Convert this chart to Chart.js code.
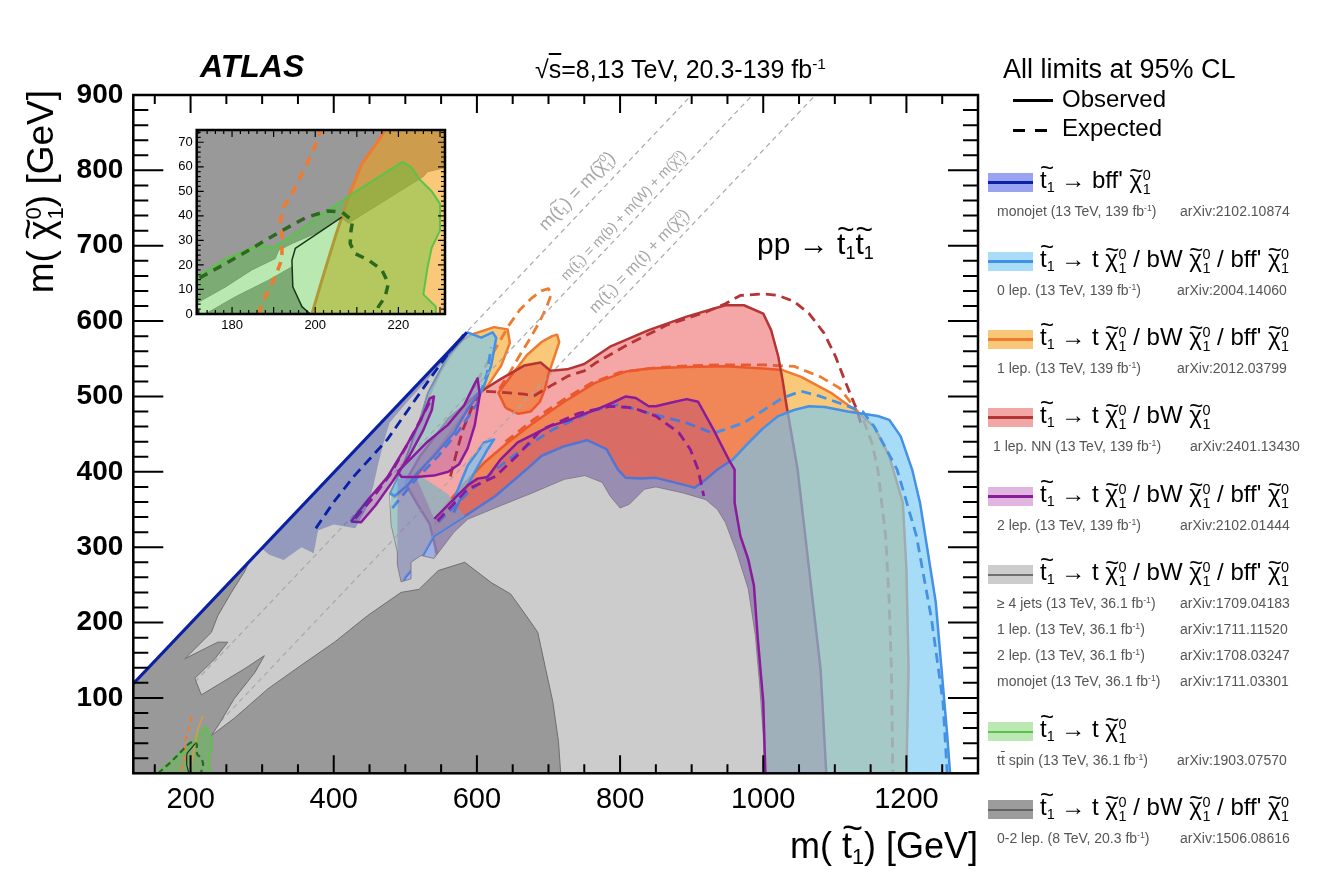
<!DOCTYPE html>
<html lang="en">
<head>
<meta charset="UTF-8">
<title>ATLAS stop summary</title>
<script src="https://cdn.jsdelivr.net/npm/chart.js"></script>
<style>
  body { margin:0; background:#fff; overflow:hidden; font-family:'Liberation Sans', Arial, Helvetica, sans-serif; }
  #wrap { position:relative; width:1326px; height:878px; }
  #mainChart { position:absolute; left:0; top:0; }
  #insetChart { position:absolute; left:150px; top:115px; }
  .t { position:absolute; white-space:nowrap; line-height:1; color:#000; z-index:5; }
  .tl { position:relative; display:inline-block; }
  .tl::after { content:'~'; position:absolute; left:0; right:0; text-align:center; top:-0.5em; }
  .tl.tx::after { top:-0.36em; }
  .sb { font-size:0.6em; vertical-align:-0.3em; }
  .ss { display:inline-flex; flex-direction:column; font-size:0.6em; line-height:1; vertical-align:0.55em; margin-left:0.04em; }
  sup.e { font-size:0.62em; vertical-align:0.55em; line-height:0; }
  .ov { text-decoration:overline; }
  .box { position:absolute; width:45px; height:19px; z-index:5; }
  .box div { position:absolute; left:0; right:0; top:8px; height:3px; }
  .mk { position:absolute; background:#000; height:3px; z-index:5; }
  .diag { position:absolute; white-space:nowrap; line-height:1; color:#a6a6a6; z-index:4; transform:translate(-50%,-50%) rotate(-46.4deg); }
</style>
</head>
<body>
<div id="wrap">
  <canvas id="mainChart" width="1326" height="878"></canvas>
  <canvas id="insetChart" width="310" height="230"></canvas>
</div>
<script>
// axis ticks
const xMajor = [200, 400, 600, 800, 1000, 1200];
const yMajor = [100, 200, 300, 400, 500, 600, 700, 800, 900];
const insetXMajor = [180, 200, 220];
const insetYMajor = [0, 10, 20, 30, 40, 50, 60, 70];

// 1 lep. 139 fb-1 (orange)
const orangeObsMain = [[540,330],[560,360],[583,385],[610,412],[642,438],[679,465],[722,493],[765,518],[808,533],[840,537],[893,539],[947,540],[1000,537],[1027,535],[1053,526],[1096,504],[1128,482],[1155,460],[1176,421],[1195,359],[1200,271],[1203,139],[1200,0],[540,0]];
const orangeLobe1 = [[640,485],[630,505],[650,530],[670,555],[690,572],[705,580],[712,582],[715,572],[708,552],[700,530],[695,510],[688,493],[675,480],[658,477],[640,485]];
const orangeLobe2 = [[592,582],[605,586],[624,592],[643,589],[646,571],[634,541],[615,514],[601,501],[585,480],[565,455],[545,430],[520,400],[500,378],[485,366],[478,372],[490,400],[505,435],[520,470],[535,505],[550,535],[565,558],[580,575],[592,582]];
const orangeExpMain = [[640,440],[680,470],[720,495],[760,518],[800,532],[850,538],[900,541],[947,542],[1000,542],[1043,540],[1080,526],[1107,511],[1123,491],[1139,471],[1152,438],[1160,403],[1171,315],[1176,227],[1179,139],[1181,0]];
const orangeExpLobe = [[600,520],[615,545],[630,570],[645,595],[660,615],[676,630],[690,640],[700,643],[704,636],[698,620],[688,600],[675,578],[660,555],[645,530],[630,508]];
const orangeLow = [[199.2,0],[201.6,13.8],[204.8,31.4],[208,47.7],[211.2,61.2],[215.2,70.7],[217.2,76]];
const orangeLowExp = [[201.6,76],[199.2,65.3],[196.8,57.2],[194.4,49],[192.4,43.6],[191.6,38.2],[192,32.8],[192,24.6],[191.6,20.6],[190.4,15.2],[188.8,9.8],[187.2,4.3],[186.4,0]];

// 1 lep. NN 139 fb-1 (red)
const redObsMain = [[560,0],[555,250],[534,331],[515,360],[500,385],[505,395],[520,420],[540,445],[560,470],[585,490],[601,504],[633,523],[666,541],[689,545],[703,534],[726,536],[750,543],[786,566],[840,588],[893,606],[947,621],[973,621],[1000,610],[1011,588],[1021,553],[1027,522],[1032,491],[1048,403],[1064,271],[1080,139],[1088,0]];
const redExp = [[563,394],[570,420],[580,455],[595,490],[606,507],[630,506],[666,503],[680,501],[703,514],[727,527],[750,534],[765,544],[813,570],[866,595],[920,612],[947,623],[968,634],[1000,636],[1021,634],[1043,626],[1064,610],[1085,584],[1101,553],[1112,526],[1123,500],[1131,482],[1136,465]];

// 0 lep. 139 fb-1 (light blue)
const blueObsMain = [[470,0],[470,200],[500,260],[524,288],[540,315],[583,341],[626,368],[669,403],[690,421],[722,434],[754,442],[781,430],[797,403],[808,392],[829,391],[850,392],[888,383],[904,379],[920,390],[936,403],[957,416],[979,438],[1000,458],[1021,474],[1043,482],[1064,487],[1086,486],[1118,480],[1160,474],[1176,469],[1192,447],[1208,403],[1219,359],[1230,293],[1241,227],[1249,139],[1257,51],[1261,0]];
const lowPatch = [[480,230],[480,395],[520,395],[560,370],[583,341],[540,315],[524,288],[500,260],[485,230]];
const lobeLeft = [[585,583],[575,575],[560,556],[545,530],[531,505],[520,470],[505,430],[490,395],[478,372]];
const blueLobe = [[478,372],[485,368],[503,382],[517,399],[540,421],[568,452],[587,483],[610,514],[620,541],[627,578],[622,585],[606,578],[587,585],[575,575],[560,556],[545,530],[531,505],[520,470],[505,430],[490,395],[478,372]];
const blueLobe2 = [[568,346],[568,364],[587,408],[610,439],[624,443],[615,430],[600,405],[587,382],[575,360],[568,346]];
const blueExp = [[546,333],[585,370],[626,403],[666,432],[706,456],[765,482],[797,489],[840,478],[893,465],[930,451],[973,465],[1027,498],[1053,507],[1080,500],[1107,491],[1139,480],[1155,460],[1187,403],[1214,315],[1235,205],[1251,95],[1257,0]];
const blueExpLobe = [[482,352],[510,385],[545,420],[575,455],[600,490],[614,530],[620,565]];

// 36.1 fb-1 combination (light grey), visible upper edge
const grayTop = [[480,330],[489,293],[489,276],[494,254],[508,258],[508,280],[522,289],[540,285],[568,320],[587,337],[633,355],[680,373],[722,390],[751,395],[775,386],[786,368],[800,352],[813,357],[834,377],[850,380],[888,372],[920,363],[936,350],[947,333],[963,293],[979,245],[989,183],[995,117],[1000,51],[1002,0]];

// 8 TeV (dark grey)
const darkGray8 = [[120,0],[120,117],[280,277],[275,267],[257,240],[238,209],[229,187],[192,152],[238,174],[252,174],[234,152],[206,126],[215,104],[276,139],[303,156],[290,134],[261,99],[239,64],[229,50],[261,73],[308,112],[354,143],[401,174],[447,209],[494,240],[519,244],[546,269],[583,280],[620,253],[647,238],[669,209],[685,187],[695,143],[706,95],[714,42],[717,0]];

// kinematic limits
const diag1 = [[120,120],[900,900]];
const diag2 = [[120,35],[985,900]];
const diag3 = [[173,0],[1073,900]];

// 2 lep. 139 fb-1 (purple)
const purpleTop = [[540.5,337.5],[568,364],[587,382],[601,391],[615,393],[633.5,417],[657,439],[703,461],[727,468],[750,477],[765,482],[790,492],[808,500],[822,498],[840,487],[850,487],[872,492],[893,496.5],[909,493],[930.5,456],[952,416],[960,403],[960,359],[968,315],[979,284],[987,249],[992,183],[1000,95],[1003,0]];
const purpleLeft = [[489,390],[515,393]];
const purpleExp = [[545,335],[587,377],[626,394],[660,425],[690,456],[743,478],[786,487],[818,485],[850,474],[882,452],[898,430],[909,403],[917,368]];
const purpleLobe1 = [[424,334],[447,362],[475,393],[503,437],[522,469],[534,497],[540,500],[537,482],[525,455],[505,420],[482,387],[458,355],[438,333],[424,334]];
const purpleLobe2 = [[489,400],[508,418],[531,440],[559,462],[582,488],[596,515],[601,524],[604,502],[597,462],[587,431],[575,410],[560,400],[540,395],[515,393],[495,393],[489,400]];
const purpleExpLobe = [[430,338],[455,366],[480,398],[505,440],[525,476],[535,494]];

// monojet 139 fb-1 (dark blue)
const monojetFill = [[300,298],[585,584],[583,577],[540,532],[500,490],[478,465],[470,440],[462,410],[455,380],[445,350],[430,325],[400,330],[378,322],[372,292],[355,300],[330,283],[310,290]];
const monojetObs = [[120,119],[586,585]];
const monojetExp = [[375,325],[400,360],[429,395],[475,443],[531,519],[559,556],[582,582]];

// ttbar spin 36.1 fb-1 (green)
const ttspinObs = [[152,0],[160,7],[171.5,15],[178,22],[186,28],[190,27],[208,48],[221,62],[223,60],[225,55],[228,50],[230,45],[230,34],[228,27],[227,19],[226,8],[229,3],[229,0]];
const ttspinExp = [[155,0],[163,7],[172,14.5],[181,23],[187,29],[192,34],[198,39.5],[203,42],[206.5,41.5],[209,38],[208.6,34],[208.4,28.7],[209.6,24.6],[212.8,22],[216,18],[217.6,12.5],[216.8,7],[215.2,3],[214.6,0]];
const ttspinBlack = [[206.4,39.5],[195.2,26.7],[194.4,21.9],[194.6,11.1],[196.8,3],[198.8,0]];

// inset: region not excluded at 8 TeV, 1 lep. region
const insetWhite = [[173.6,0],[180.8,7],[188.8,13.8],[194.4,19.2],[194.6,11.1],[196.8,3],[198.8,0],[232,0],[232,60],[227,58],[226,56],[208,37],[206,39.5],[201.6,34],[194.4,28.7],[191.2,26],[190.4,22.6],[184.8,18],[178.4,11],[171,4],[171,0]];
const insetOrange = [[199.2,0],[201.6,13.8],[204.8,31.4],[208,47.7],[211.2,61.2],[215.2,70.7],[217.2,76],[232,76],[232,0]];
const insetBack = [[170,0],[170,77],[232,77],[232,0]];

// legend
const legendDecays = ["T → bff' X", "T → t X / bW X / bff' X", "T → t X / bW X / bff' X", "T → t X / bW X", "T → t X / bW X / bff' X", "T → t X / bW X / bff' X", "T → t X", "T → t X / bW X / bff' X"];
const legendFill = ['#9aa3f2', '#a8dcf8', '#f8c878', '#f2a6a6', '#e0b6e0', '#cccccc', '#bce8b4', '#9c9c9c'];
const legendLine = ['#0a20a6', '#3f90e6', '#ef7b31', '#b53434', '#8a1c9c', '#707070', '#5cc24a', '#626262'];
const legendTop = [173, 252, 330, 408, 487, 565, 722, 800];
const legendNotes = [
  [['monojet (13 TeV, 139 fb^-1)', 'arXiv:2102.10874']],
  [['0 lep. (13 TeV, 139 fb^-1)', 'arXiv:2004.14060']],
  [['1 lep. (13 TeV, 139 fb^-1)', 'arXiv:2012.03799']],
  [['1 lep. NN (13 TeV, 139 fb^-1)', 'arXiv:2401.13430']],
  [['2 lep. (13 TeV, 139 fb^-1)', 'arXiv:2102.01444']],
  [['≥ 4 jets (13 TeV, 36.1 fb^-1)', 'arXiv:1709.04183'], ['1 lep. (13 TeV, 36.1 fb^-1)', 'arXiv:1711.11520'], ['2 lep. (13 TeV, 36.1 fb^-1)', 'arXiv:1708.03247'], ['monojet (13 TeV, 36.1 fb^-1)', 'arXiv:1711.03301']],
  [['t<span class="ov">t</span> spin (13 TeV, 36.1 fb^-1)', 'arXiv:1903.07570']],
  [['0-2 lep. (8 TeV, 20.3 fb^-1)', 'arXiv:1506.08616']]
];
const noteX = [997, 997, 997, 993, 997, 997, 997, 997];
const refX = [1180, 1177, 1177, 1190, 1180, 1180, 1177, 1180];

const DASH = [10, 6];
const C = {
  orange: '#ef7b31', orangeFill: 'rgba(245,160,20,0.57)',
  red: '#b53434', redFill: 'rgba(230,40,40,0.41)',
  blue: '#4491e6', blueFill: 'rgba(116,200,244,0.64)',
  purple: '#8a1c9c', purpleFill: 'rgba(130,20,150,0.22)',
  mono: '#0a20a6', monoFill: 'rgba(40,60,160,0.35)',
  green: '#5cc24a', greenFill: 'rgba(80,200,60,0.4)', darkGreen: '#2b6a1e'
};
const FONT = "'Liberation Sans', Arial, Helvetica, sans-serif";

function area(arr, fillColor, lineColor, width, dash) {
  return {
    data: arr.map(p => ({x: p[0], y: p[1]})),
    fill: fillColor ? 'shape' : false,
    backgroundColor: fillColor || 'transparent',
    borderColor: lineColor || 'transparent',
    borderWidth: width || 1,
    borderDash: dash || [],
    borderCapStyle: 'butt',
    borderJoinStyle: 'round',
    pointRadius: 0,
    pointHoverRadius: 0,
    tension: 0
  };
}

// inward ticks on all four sides plus the frame
const frameTicks = {
  id: 'frameTicks',
  afterDraw(chart, args, o) {
    const {ctx, chartArea: a, scales: {x, y}} = chart;
    const isMajor = (list, v) => list.some(m => Math.abs(m - v) < 1e-6);
    ctx.save();
    ctx.strokeStyle = '#000';
    ctx.lineWidth = o.tickWidth;
    ctx.beginPath();
    for (let v = o.xStart; v <= x.max + 1e-6; v += o.xStep) {
      const px = x.getPixelForValue(v);
      const len = isMajor(o.xMajor, v) ? o.xMajorLen : o.xMinorLen;
      ctx.moveTo(px, a.bottom); ctx.lineTo(px, a.bottom - len);
      ctx.moveTo(px, a.top); ctx.lineTo(px, a.top + len);
    }
    for (let v = o.yStart; v <= y.max + 1e-6; v += o.yStep) {
      const py = y.getPixelForValue(v);
      const len = isMajor(o.yMajor, v) ? o.yMajorLen : o.yMinorLen;
      ctx.moveTo(a.left, py); ctx.lineTo(a.left + len, py);
      ctx.moveTo(a.right, py); ctx.lineTo(a.right - len, py);
    }
    ctx.stroke();
    ctx.lineWidth = o.frameWidth;
    ctx.strokeRect(a.left, a.top, a.right - a.left, a.bottom - a.top);
    ctx.restore();
  }
};

function axisOpts(min, max, ticks, font, pad, fit) {
  return {
    type: 'linear', min: min, max: max,
    grid: {display: false, drawTicks: false},
    border: {display: false},
    afterBuildTicks: s => { s.ticks = ticks.map(v => ({value: v})); },
    afterFit: fit,
    ticks: {font: font, color: '#000', padding: pad, autoSkip: false, maxRotation: 0, callback: v => String(v)}
  };
}

// main plot, layers listed bottom to top
const lightGrayPoly = [[120,0],[120,118]].concat(lobeLeft, grayTop);
const purplePoly = purpleTop.concat(grayTop.filter(p => p[0] >= 489).reverse(), purpleLeft);
const mainLayers = [
  area(orangeObsMain, C.orangeFill, C.orange, 2.5),
  area(lowPatch, C.orangeFill, null),
  area(orangeLobe1, C.orangeFill, C.orange, 2.5),
  area(orangeLobe2, C.orangeFill, C.orange, 2.5),
  area(orangeExpMain, null, C.orange, 2.8, DASH),
  area(orangeExpLobe, null, C.orange, 2.8, DASH),
  area(redObsMain, C.redFill, C.red, 2.5),
  area(redExp, null, C.red, 2.8, DASH),
  area(blueObsMain, C.blueFill, C.blue, 2.5),
  area(lowPatch, C.blueFill, null),
  area(blueLobe, C.blueFill, C.blue, 2.5),
  area(blueLobe2, C.blueFill, C.blue, 2.5),
  area(blueExp, null, C.blue, 2.8, DASH),
  area(blueExpLobe, null, C.blue, 2.8, DASH),
  area(lightGrayPoly, '#cccccc', '#8c8c8c', 1),
  area(diag1, null, '#a8a8a8', 1.2, [5, 4]),
  area(diag2, null, '#a8a8a8', 1.2, [5, 4]),
  area(diag3, null, '#a8a8a8', 1.2, [5, 4]),
  area(darkGray8, '#999999', '#6e6e6e', 1),
  area(purplePoly, C.purpleFill, null),
  area(purpleLobe1, C.purpleFill, C.purple, 2.5),
  area(purpleLobe2, C.purpleFill, C.purple, 2.5),
  area(purpleTop, null, C.purple, 2.5),
  area(purpleExp, null, C.purple, 2.8, DASH),
  area(purpleExpLobe, null, C.purple, 2.8, DASH),
  area(monojetFill, C.monoFill, null),
  area(monojetExp, null, C.mono, 2.8, DASH),
  area(monojetObs, null, C.mono, 3),
  area(ttspinObs, C.greenFill, C.green, 1.5),
  area(orangeLow, null, '#c8a050', 1.8),
  area(orangeLowExp, null, C.orange, 2, [6, 4]),
  area(ttspinBlack, null, '#1c361c', 1.2),
  area(ttspinExp, null, C.darkGreen, 2.2, [6, 4])
];

new Chart(document.getElementById('mainChart'), {
  type: 'line',
  data: {datasets: mainLayers.slice().reverse()},
  plugins: [frameTicks],
  options: {
    responsive: false, animation: false, devicePixelRatio: 1, events: [],
    layout: {padding: {top: 95, right: 348, left: 0, bottom: 0}},
    scales: {
      x: axisOpts(120, 1300, xMajor, {family: FONT, size: 29}, 9, s => { s.height = 104.7; }),
      y: axisOpts(0, 900, yMajor, {family: FONT, size: 28, weight: 'bold'}, 10, s => { s.width = 133.3; })
    },
    plugins: {
      legend: {display: false}, tooltip: {enabled: false},
      filler: {drawTime: 'beforeDatasetDraw'},
      frameTicks: {xStart: 150, xStep: 50, yStart: 20, yStep: 20, xMajor: xMajor, yMajor: yMajor,
        xMajorLen: 18, xMinorLen: 9, yMajorLen: 30, yMinorLen: 15, tickWidth: 2, frameWidth: 2.5}
    }
  }
});

// inset: compressed region near the top mass
const insetLayers = [
  area(insetBack, '#999999', null),
  area(insetWhite, '#ffffff', '#8a8a8a', 1),
  area(insetOrange, C.orangeFill, null),
  area(orangeLow, null, C.orange, 3),
  area(ttspinObs, C.greenFill, C.green, 2),
  area(orangeLowExp, null, C.orange, 3.5, [9, 7]),
  area(ttspinBlack, null, '#1c361c', 1.5),
  area(ttspinExp, null, C.darkGreen, 3.5, [9, 7])
];

new Chart(document.getElementById('insetChart'), {
  type: 'line',
  data: {datasets: insetLayers.slice().reverse()},
  plugins: [frameTicks],
  options: {
    responsive: false, animation: false, devicePixelRatio: 1, events: [],
    layout: {padding: {top: 15, right: 15, left: 0, bottom: 0}},
    scales: {
      x: axisOpts(171.5, 231.2, insetXMajor, {family: FONT, size: 13}, 4, s => { s.height = 31; }),
      y: axisOpts(0, 75, insetYMajor, {family: FONT, size: 13}, 4, s => { s.width = 46.7; })
    },
    plugins: {
      legend: {display: false}, tooltip: {enabled: false},
      filler: {drawTime: 'beforeDatasetDraw'},
      frameTicks: {xStart: 172, xStep: 2, yStart: 2, yStep: 2, xMajor: [180, 190, 200, 210, 220, 230], yMajor: insetYMajor,
        xMajorLen: 7, xMinorLen: 4, yMajorLen: 7, yMinorLen: 4, tickWidth: 1.2, frameWidth: 2.5}
    }
  }
});

// text overlays
const wrap = document.getElementById('wrap');
const T1 = '<span class="tl">t</span><span class="sb">1</span>';
const CHI = '<span class="tl tx">χ</span><span class="ss"><span>0</span><span>1</span></span>';
const fmt = s => s.replace(/T/g, T1).replace(/X/g, CHI);
const fmtNote = s => s.replace('fb^-1', 'fb<sup class="e">-1</sup>');

function addText(html, x, baseline, size, extra) {
  const d = document.createElement('div');
  d.className = 't';
  d.innerHTML = html;
  d.style.left = x + 'px';
  d.style.top = (baseline - 0.8465 * size) + 'px';
  d.style.fontSize = size + 'px';
  if (extra) Object.assign(d.style, extra);
  wrap.appendChild(d);
  return d;
}
function addEl(cls, x, y, w, extra) {
  const d = document.createElement('div');
  d.className = cls;
  d.style.left = x + 'px';
  d.style.top = y + 'px';
  if (w) d.style.width = w + 'px';
  if (extra) Object.assign(d.style, extra);
  wrap.appendChild(d);
  return d;
}

addText('ATLAS', 200, 77, 32, {fontWeight: 'bold', fontStyle: 'italic'});
addText('√<span class="ov">s</span>=8,13 TeV, 20.3-139 fb<sup class="e">-1</sup>', 535, 78, 25);
addText('pp → ' + T1 + T1, 757, 254, 30);
addText('m( ' + T1 + ') [GeV]', 0, 858, 36, {left: 'auto', right: (1326 - 978) + 'px'});
addText('m( ' + CHI + ') [GeV]', 0, 0, 37, {left: '22px', top: '350px', width: '260px', textAlign: 'right', transformOrigin: '0 0', transform: 'rotate(-90deg)'});

addText('All limits at 95% CL', 1003, 79, 27);
addEl('mk', 1013, 99, 40);
addText('Observed', 1062, 107, 24);
addEl('mk', 1013, 129, 12);
addEl('mk', 1035, 129, 12);
addText('Expected', 1062, 136, 24);

legendDecays.forEach((d, i) => {
  const top = legendTop[i];
  const b = addEl('box', 988, top, 0, {background: legendFill[i]});
  const ln = document.createElement('div');
  ln.style.background = legendLine[i];
  if (i >= 5) { ln.style.height = '2px'; ln.style.top = '9px'; }
  b.appendChild(ln);
  addText(fmt(d), 1040, top + 15, 24);
  legendNotes[i].forEach((n, j) => {
    addText(fmtNote(n[0]), noteX[i], top + 43 + 26 * j, 14, {color: '#555'});
    addText(n[1], refX[i], top + 43 + 26 * j, 14, {color: '#555'});
  });
});

// labels along the kinematic limits
const diagLabels = ['m(' + T1 + ') = m(' + CHI + ')', 'm(' + T1 + ') = m(b) + m(W) + m(' + CHI + ')', 'm(' + T1 + ') = m(t) + m(' + CHI + ')'];
const diagPos = [[578, 192, 18], [624, 216, 14], [640, 262, 16]];
diagLabels.forEach((s, i) => {
  const d = addEl('diag', diagPos[i][0], diagPos[i][1], 0, {fontSize: diagPos[i][2] + 'px'});
  d.style.width = 'auto';
  d.innerHTML = s;
});
</script>
</body>
</html>
